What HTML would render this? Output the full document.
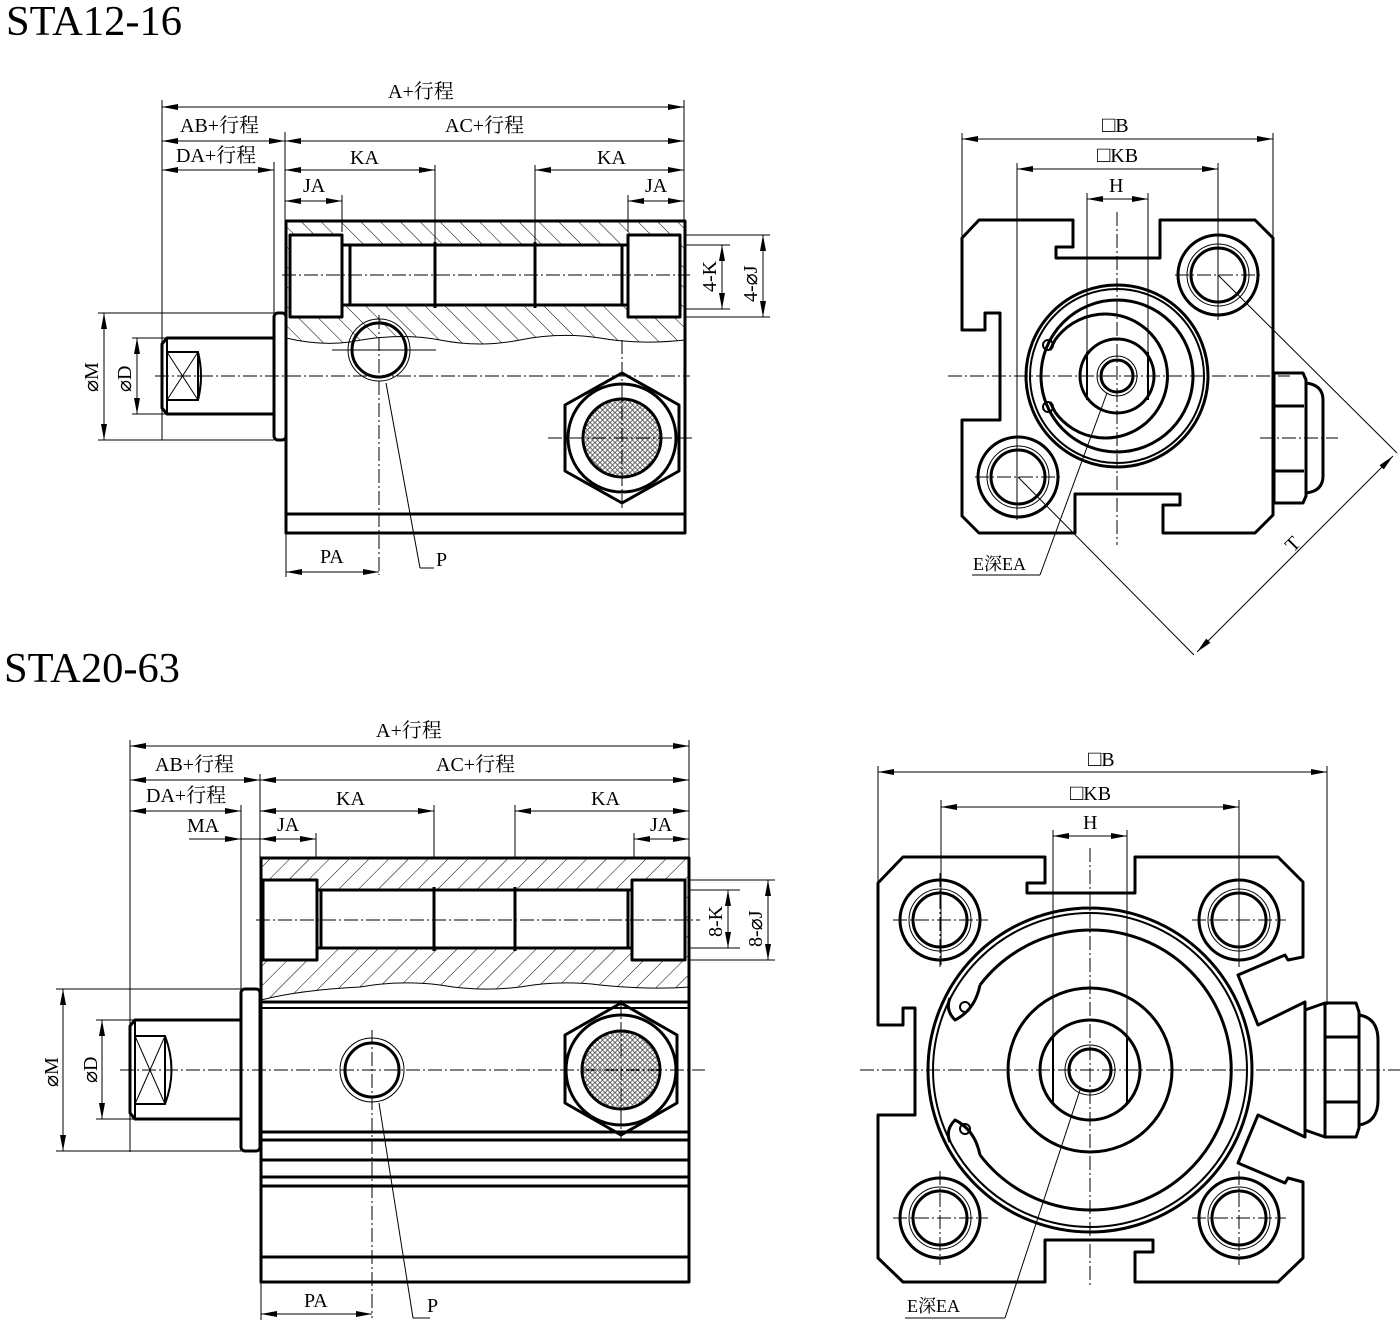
<!DOCTYPE html>
<html><head><meta charset="utf-8"><style>
html,body{margin:0;padding:0;background:#fff;}
svg{display:block}
text{font-family:"Liberation Serif","Noto Serif CJK SC","Noto Sans CJK SC",serif;fill:#000}
.t{stroke:#000;stroke-width:3;fill:none;stroke-linejoin:round}
.m{stroke:#000;stroke-width:2;fill:none}
.n{stroke:#000;stroke-width:1;fill:none}
.c{stroke:#000;stroke-width:1;fill:none;stroke-dasharray:14 3 2 3}
.d{stroke:#000;stroke-width:1;fill:none;marker-start:url(#a);marker-end:url(#a)}
.d1{stroke:#000;stroke-width:1;fill:none;marker-end:url(#a)}
.l{font-size:20px}
</style></head><body>
<svg width="1400" height="1322" viewBox="0 0 1400 1322" xmlns="http://www.w3.org/2000/svg">
<defs>
<marker id="a" viewBox="0 0 16 6" refX="16" refY="3" markerWidth="16" markerHeight="6" orient="auto-start-reverse" markerUnits="userSpaceOnUse"><path d="M0,0 L16,3 L0,6 Z" fill="#000"/></marker>
<pattern id="h1" width="14" height="14" patternUnits="userSpaceOnUse" patternTransform="rotate(-45)"><line x1="0" y1="0" x2="0" y2="14" stroke="#000" stroke-width="1"/></pattern>
<pattern id="h2" width="14" height="14" patternUnits="userSpaceOnUse" patternTransform="rotate(45)"><line x1="0" y1="0" x2="0" y2="14" stroke="#000" stroke-width="1"/></pattern>
<pattern id="g" width="5" height="5" patternUnits="userSpaceOnUse"><circle cx="2.5" cy="2.5" r="1.8" fill="none" stroke="#000" stroke-width="0.7"/></pattern>
</defs>

<!-- Titles -->
<text x="6" y="35" font-size="42" textLength="176" lengthAdjust="spacingAndGlyphs">STA12-16</text>
<text x="4" y="682" font-size="42" textLength="176" lengthAdjust="spacingAndGlyphs">STA20-63</text>

<!-- ============ TOP LEFT ============ -->
<g>
<!-- dims -->
<line class="n" x1="162" y1="100" x2="162" y2="440"/>
<line class="n" x1="684" y1="100" x2="684" y2="220"/>
<line class="n" x1="285" y1="132" x2="285" y2="220"/>
<line class="n" x1="274" y1="162" x2="274" y2="313"/>
<line class="n" x1="435" y1="165" x2="435" y2="245"/>
<line class="n" x1="535" y1="165" x2="535" y2="245"/>
<line class="n" x1="342" y1="195" x2="342" y2="232"/>
<line class="n" x1="628" y1="195" x2="628" y2="232"/>
<line class="d" x1="162" y1="107" x2="684" y2="107"/>
<text class="l" x="388" y="98">A+行程</text>
<line class="d" x1="162" y1="141" x2="285" y2="141"/>
<text class="l" x="180" y="132">AB+行程</text>
<line class="d" x1="285" y1="141" x2="684" y2="141"/>
<text class="l" x="445" y="132">AC+行程</text>
<line class="d" x1="162" y1="170" x2="274" y2="170"/>
<text class="l" x="176" y="162">DA+行程</text>
<line class="d" x1="285" y1="170" x2="435" y2="170"/>
<text class="l" x="350" y="164">KA</text>
<line class="d" x1="535" y1="170" x2="684" y2="170"/>
<text class="l" x="597" y="164">KA</text>
<line class="d" x1="285" y1="201" x2="342" y2="201"/>
<text class="l" x="303" y="192">JA</text>
<line class="d" x1="628" y1="201" x2="684" y2="201"/>
<text class="l" x="645" y="192">JA</text>
<!-- body hatch -->
<path d="M286,221 L685,221 L685,340 Q640,345 600,338 Q560,332 520,340 Q480,348 440,340 Q400,332 350,342 Q320,346 286,338 Z" fill="url(#h1)"/>
<rect x="290" y="235" width="52" height="82" fill="#fff"/>
<rect x="628" y="235" width="52" height="82" fill="#fff"/>
<rect x="342" y="245" width="286" height="60" fill="#fff"/>
<path class="n" d="M286,338 Q320,346 350,342 Q400,332 440,340 Q480,348 520,340 Q560,332 600,338 Q640,345 685,340"/>
<rect class="t" x="286" y="221" width="399" height="312"/>
<line class="t" x1="286" y1="514" x2="685" y2="514"/>
<rect class="t" x="290" y="235" width="52" height="82"/>
<rect class="t" x="628" y="235" width="52" height="82"/>
<path class="t" d="M342,245 L350,245 L622,245 L628,245 M342,305 L628,305 M350,245 L350,305 M622,245 L622,305"/>
<line class="t" x1="435" y1="242" x2="435" y2="308"/>
<line class="t" x1="535" y1="242" x2="535" y2="308"/>
<line class="c" x1="282" y1="275" x2="690" y2="275"/>
<!-- 4-K 4-J -->
<line class="n" x1="685" y1="245" x2="730" y2="245"/>
<line class="n" x1="685" y1="309" x2="730" y2="309"/>
<line class="n" x1="685" y1="235" x2="770" y2="235"/>
<line class="n" x1="685" y1="317" x2="770" y2="317"/>
<line class="d" x1="722" y1="245" x2="722" y2="309"/>
<line class="d" x1="763" y1="235" x2="763" y2="317"/>
<text class="l" transform="translate(716,292) rotate(-90)">4-K</text>
<text class="l" transform="translate(757,302) rotate(-90)">4-⌀J</text>
<!-- rod -->
<rect class="t" x="274" y="313" width="12" height="127" rx="4"/>
<path class="t" d="M274,338 L167,338 L162,344 L162,408 L167,414 L274,414"/>
<path class="m" d="M167,338 L167,414 M167,352 L198,352 Q204,376 198,400 L167,400 M198,352 L198,400"/>
<path class="n" d="M167,352 L198,400 M198,352 L167,400"/>
<line class="c" x1="155" y1="376" x2="690" y2="376"/>
<!-- OM OD -->
<line class="n" x1="98" y1="313" x2="274" y2="313"/>
<line class="n" x1="98" y1="440" x2="274" y2="440"/>
<line class="n" x1="132" y1="338" x2="167" y2="338"/>
<line class="n" x1="132" y1="414" x2="167" y2="414"/>
<line class="d" x1="104" y1="313" x2="104" y2="440"/>
<line class="d" x1="137" y1="338" x2="137" y2="414"/>
<text class="l" transform="translate(98,392) rotate(-90)">⌀M</text>
<text class="l" transform="translate(131,392) rotate(-90)">⌀D</text>
<!-- port -->
<circle class="t" cx="379" cy="350" r="27" fill="#fff"/>
<circle class="n" cx="379" cy="350" r="31"/>
<line class="n" x1="332" y1="350" x2="436" y2="350"/>
<line class="c" x1="379" y1="315" x2="379" y2="575"/>
<line class="n" x1="386" y1="383" x2="420" y2="568"/>
<line class="n" x1="420" y1="568" x2="434" y2="568"/>
<text class="l" x="436" y="566">P</text>
<line class="n" x1="286" y1="533" x2="286" y2="577"/>
<line class="d" x1="286" y1="572" x2="379" y2="572"/>
<text class="l" x="320" y="563">PA</text>
<!-- hex filter -->
<polygon class="t" points="622,373 679,405 679,471 622,503 565,471 565,405" fill="#fff"/>
<circle class="t" cx="622" cy="438" r="54"/>
<circle cx="622" cy="438" r="39" fill="url(#g)" stroke="#000" stroke-width="3"/>
<line class="c" x1="548" y1="438" x2="692" y2="438"/>
<line class="c" x1="622" y1="340" x2="622" y2="510"/>
</g>

<!-- ============ TOP RIGHT ============ -->
<g>
<line class="n" x1="962" y1="133" x2="962" y2="238"/>
<line class="n" x1="1273" y1="133" x2="1273" y2="238"/>
<line class="n" x1="1017" y1="163" x2="1017" y2="520"/>
<line class="n" x1="1218" y1="163" x2="1218" y2="320"/>
<line class="n" x1="1087" y1="193" x2="1087" y2="400"/>
<line class="n" x1="1148" y1="193" x2="1148" y2="400"/>
<line class="d" x1="962" y1="139" x2="1273" y2="139"/>
<line class="d" x1="1017" y1="169" x2="1218" y2="169"/>
<line class="d" x1="1087" y1="199" x2="1148" y2="199"/>
<text class="l" x="1102" y="132"><tspan font-size="22">□</tspan>B</text>
<text class="l" x="1097" y="162"><tspan font-size="22">□</tspan>KB</text>
<text class="l" x="1109" y="192">H</text>
<path class="t" d="M962,238 L979,220 L1073,220 L1073,247 L1056,247 L1056,258 L1160,258 L1160,220 L1255,220 L1273,238 L1273,515 L1255,533 L1163,533 L1163,505 L1180,505 L1180,494 L1075,494 L1075,533 L979,533 L962,516 L962,420 L1000,420 L1000,313 L985,313 L985,330 L962,330 Z"/>
<circle class="t" cx="1117" cy="376" r="91"/>
<circle class="m" cx="1117" cy="376" r="87"/>
<circle class="t" cx="1117" cy="376" r="76"/>
<path class="t" d="M1055,340 A62,62 0 1 1 1055,412 M1055,340 L1050,350 M1055,412 L1050,402"/>
<circle class="m" cx="1048" cy="345" r="5"/>
<circle class="m" cx="1048" cy="407" r="5"/>
<circle class="t" cx="1117" cy="376" r="37"/>
<path class="m" d="M1087,352 L1087,400 M1148,352 L1148,400"/>
<circle class="t" cx="1117" cy="376" r="16"/>
<circle class="n" cx="1117" cy="376" r="20"/>
<line class="c" x1="948" y1="376" x2="1290" y2="376"/>
<line class="c" x1="1117" y1="212" x2="1117" y2="545"/>
<!-- holes -->
<circle class="t" cx="1218" cy="275" r="40"/>
<circle class="t" cx="1218" cy="275" r="27"/>
<circle class="n" cx="1218" cy="275" r="31"/>
<circle class="t" cx="1018" cy="477" r="40"/>
<circle class="t" cx="1018" cy="477" r="27"/>
<circle class="n" cx="1018" cy="477" r="31"/>
<line class="c" x1="1175" y1="275" x2="1262" y2="275"/>
<line class="c" x1="975" y1="477" x2="1060" y2="477"/>
<!-- nut -->
<path class="t" d="M1274,373 L1303,373 L1306,380 L1306,496 L1303,503 L1274,503 Z"/>
<line class="t" x1="1274" y1="406" x2="1304" y2="406"/>
<line class="t" x1="1274" y1="471" x2="1304" y2="471"/>
<path class="t" d="M1306,383 Q1323,385 1323,400 L1323,476 Q1323,491 1306,493"/>
<line class="c" x1="1260" y1="438" x2="1338" y2="438"/>
<!-- T -->
<line class="n" x1="1218" y1="275" x2="1397" y2="453"/>
<line class="n" x1="1018" y1="477" x2="1194" y2="655"/>
<line class="d" x1="1393" y1="456" x2="1197" y2="652"/>
<text class="l" transform="translate(1293,553) rotate(-45)">T</text>
<!-- E label -->
<line class="n" x1="1107" y1="393" x2="1040" y2="575"/>
<line class="n" x1="972" y1="575" x2="1040" y2="575"/>
<text x="973" y="570" font-size="18">E深EA</text>
</g>

<!-- ============ BOTTOM LEFT ============ -->
<g>
<line class="n" x1="130" y1="740" x2="130" y2="1152"/>
<line class="n" x1="689" y1="740" x2="689" y2="858"/>
<line class="n" x1="260" y1="774" x2="260" y2="858"/>
<line class="n" x1="241" y1="805" x2="241" y2="990"/>
<line class="n" x1="434" y1="805" x2="434" y2="858"/>
<line class="n" x1="515" y1="805" x2="515" y2="858"/>
<line class="n" x1="316" y1="833" x2="316" y2="858"/>
<line class="n" x1="634" y1="833" x2="634" y2="858"/>
<line class="d" x1="130" y1="746" x2="689" y2="746"/>
<text class="l" x="376" y="737">A+行程</text>
<line class="d" x1="130" y1="780" x2="260" y2="780"/>
<text class="l" x="155" y="771">AB+行程</text>
<line class="d" x1="260" y1="780" x2="689" y2="780"/>
<text class="l" x="436" y="771">AC+行程</text>
<line class="d" x1="130" y1="811" x2="241" y2="811"/>
<text class="l" x="146" y="802">DA+行程</text>
<line class="d" x1="260" y1="811" x2="434" y2="811"/>
<text class="l" x="336" y="805">KA</text>
<line class="d" x1="515" y1="811" x2="689" y2="811"/>
<text class="l" x="591" y="805">KA</text>
<line class="d1" x1="189" y1="839" x2="241" y2="839"/>
<line class="n" x1="241" y1="839" x2="260" y2="839"/>
<text class="l" x="187" y="832">MA</text>
<line class="d" x1="260" y1="839" x2="316" y2="839"/>
<text class="l" x="277" y="831">JA</text>
<line class="d" x1="634" y1="839" x2="689" y2="839"/>
<text class="l" x="650" y="831">JA</text>
<!-- hatch -->
<path d="M261,858 L689,858 L689,987 Q650,990 600,985 Q560,980 520,987 Q480,992 440,985 Q400,980 360,987 Q300,990 261,1000 Z" fill="url(#h2)"/>
<rect x="263" y="880" width="54" height="80" fill="#fff"/>
<rect x="632" y="880" width="53" height="80" fill="#fff"/>
<rect x="317" y="890" width="315" height="58" fill="#fff"/>
<path class="n" d="M261,1000 Q300,990 360,987 Q400,980 440,985 Q480,992 520,987 Q560,980 600,985 Q650,990 689,987"/>
<rect class="t" x="261" y="858" width="428" height="424"/>
<rect class="t" x="263" y="880" width="54" height="80"/>
<rect class="t" x="632" y="880" width="53" height="80"/>
<path class="t" d="M317,890 L632,890 M317,948 L632,948 M321,890 L321,948 M628,890 L628,948"/>
<line class="t" x1="434" y1="887" x2="434" y2="951"/>
<line class="t" x1="515" y1="887" x2="515" y2="951"/>
<line class="c" x1="256" y1="920" x2="700" y2="920"/>
<line class="t" x1="261" y1="1002" x2="689" y2="1002"/>
<line class="m" x1="261" y1="1008" x2="689" y2="1008"/>
<line class="t" x1="261" y1="1132" x2="689" y2="1132"/>
<line class="t" x1="261" y1="1140" x2="689" y2="1140"/>
<line class="t" x1="261" y1="1160" x2="689" y2="1160"/>
<line class="t" x1="261" y1="1177" x2="689" y2="1177"/>
<line class="t" x1="261" y1="1186" x2="689" y2="1186"/>
<line class="t" x1="261" y1="1257" x2="689" y2="1257"/>
<!-- 8-K 8-J -->
<line class="n" x1="689" y1="890" x2="740" y2="890"/>
<line class="n" x1="689" y1="948" x2="740" y2="948"/>
<line class="n" x1="689" y1="880" x2="775" y2="880"/>
<line class="n" x1="689" y1="960" x2="775" y2="960"/>
<line class="d" x1="728" y1="890" x2="728" y2="948"/>
<line class="d" x1="768" y1="880" x2="768" y2="960"/>
<text class="l" transform="translate(722,937) rotate(-90)">8-K</text>
<text class="l" transform="translate(762,947) rotate(-90)">8-⌀J</text>
<!-- rod -->
<rect class="t" x="241" y="989" width="19" height="162" rx="4"/>
<path class="t" d="M241,1020 L135,1020 L130,1026 L130,1113 L135,1119 L241,1119"/>
<path class="m" d="M135,1020 L135,1119 M135,1036 L165,1036 Q178,1070 165,1104 L135,1104 M165,1036 L165,1104"/>
<path class="n" d="M135,1036 L165,1104 M165,1036 L135,1104"/>
<line class="c" x1="120" y1="1070" x2="705" y2="1070"/>
<line class="n" x1="56" y1="989" x2="241" y2="989"/>
<line class="n" x1="56" y1="1151" x2="241" y2="1151"/>
<line class="n" x1="96" y1="1020" x2="135" y2="1020"/>
<line class="n" x1="96" y1="1119" x2="135" y2="1119"/>
<line class="d" x1="63" y1="989" x2="63" y2="1151"/>
<line class="d" x1="102" y1="1020" x2="102" y2="1119"/>
<text class="l" transform="translate(58,1087) rotate(-90)">⌀M</text>
<text class="l" transform="translate(97,1083) rotate(-90)">⌀D</text>
<!-- port -->
<circle class="t" cx="372" cy="1070" r="27"/>
<circle class="n" cx="372" cy="1070" r="32"/>
<line class="c" x1="372" y1="1030" x2="372" y2="1318"/>
<line class="n" x1="379" y1="1103" x2="413" y2="1318"/>
<line class="n" x1="413" y1="1318" x2="430" y2="1318"/>
<text class="l" x="427" y="1312">P</text>
<line class="n" x1="261" y1="1282" x2="261" y2="1320"/>
<line class="d" x1="261" y1="1314" x2="372" y2="1314"/>
<text class="l" x="304" y="1307">PA</text>
<!-- hex -->
<polygon class="t" points="621,1003 677,1035 677,1103 621,1135 565,1103 565,1035" fill="#fff"/>
<circle class="t" cx="621" cy="1070" r="55"/>
<circle cx="621" cy="1070" r="39" fill="url(#g)" stroke="#000" stroke-width="3"/>
<line class="c" x1="621" y1="1000" x2="621" y2="1140"/>
</g>

<!-- ============ BOTTOM RIGHT ============ -->
<g>
<line class="n" x1="878" y1="766" x2="878" y2="882"/>
<line class="n" x1="1327" y1="766" x2="1327" y2="1005"/>
<line class="n" x1="941" y1="800" x2="941" y2="965"/>
<line class="n" x1="1239" y1="800" x2="1239" y2="965"/>
<line class="n" x1="1053" y1="830" x2="1053" y2="1100"/>
<line class="n" x1="1127" y1="830" x2="1127" y2="1100"/>
<line class="d" x1="878" y1="772" x2="1327" y2="772"/>
<line class="d" x1="941" y1="807" x2="1239" y2="807"/>
<line class="d" x1="1053" y1="836" x2="1127" y2="836"/>
<text class="l" x="1088" y="766"><tspan font-size="22">□</tspan>B</text>
<text class="l" x="1070" y="800"><tspan font-size="22">□</tspan>KB</text>
<text class="l" x="1083" y="829">H</text>
<path class="t" d="M878,883 L903,857 L1045,857 L1045,883 L1027,883 L1027,893 L1135,893 L1135,857 L1278,857 L1303,882 L1303,957 L1288,960 L1285,955 L1238,975 L1258,1025 L1305,1002 L1305,1137 L1258,1115 L1238,1163 L1285,1183 L1288,1178 L1303,1182 L1303,1258 L1278,1282 L1135,1282 L1135,1252 L1153,1252 L1153,1240 L1045,1240 L1045,1282 L903,1282 L878,1258 L878,1115 L915,1115 L915,1008 L903,1008 L903,1025 L878,1025 Z"/>
<circle class="t" cx="1090" cy="1070" r="162"/>
<circle class="m" cx="1090" cy="1070" r="157"/>
<path class="t" d="M980,985 A140,140 0 1 1 980,1155 M980,985 Q975,1010 955,1020 Q945,1010 950,998 M980,1155 Q975,1130 955,1120 Q945,1130 950,1142"/>
<circle class="m" cx="965" cy="1007" r="5"/>
<circle class="m" cx="965" cy="1129" r="5"/>
<circle class="t" cx="1090" cy="1070" r="82"/>
<circle class="t" cx="1090" cy="1070" r="50"/>
<path class="m" d="M1053,1035 L1053,1105 M1127,1035 L1127,1105"/>
<circle class="t" cx="1090" cy="1070" r="21"/>
<circle class="n" cx="1090" cy="1070" r="25"/>
<line class="c" x1="860" y1="1070" x2="1400" y2="1070"/>
<line class="c" x1="1090" y1="848" x2="1090" y2="1288"/>
<!-- holes -->
<g>
<circle class="t" cx="940" cy="920" r="40"/><circle class="t" cx="940" cy="920" r="27"/><circle class="n" cx="940" cy="920" r="31"/>
<circle class="t" cx="1239" cy="920" r="40"/><circle class="t" cx="1239" cy="920" r="27"/><circle class="n" cx="1239" cy="920" r="31"/>
<circle class="t" cx="940" cy="1218" r="40"/><circle class="t" cx="940" cy="1218" r="27"/><circle class="n" cx="940" cy="1218" r="31"/>
<circle class="t" cx="1239" cy="1218" r="40"/><circle class="t" cx="1239" cy="1218" r="27"/><circle class="n" cx="1239" cy="1218" r="31"/>
<line class="c" x1="893" y1="920" x2="988" y2="920"/><line class="c" x1="940" y1="873" x2="940" y2="967"/>
<line class="c" x1="1192" y1="920" x2="1286" y2="920"/><line class="c" x1="1239" y1="873" x2="1239" y2="967"/>
<line class="c" x1="893" y1="1218" x2="988" y2="1218"/><line class="c" x1="940" y1="1171" x2="940" y2="1265"/>
<line class="c" x1="1192" y1="1218" x2="1286" y2="1218"/><line class="c" x1="1239" y1="1171" x2="1239" y2="1265"/>
</g>
<!-- nut -->
<path class="t" d="M1325,1003 L1356,1003 L1359,1012 L1359,1128 L1356,1137 L1325,1137 Z"/>
<line class="t" x1="1325" y1="1037" x2="1358" y2="1037"/>
<line class="t" x1="1325" y1="1102" x2="1358" y2="1102"/>
<path class="t" d="M1359,1015 Q1378,1018 1378,1040 L1378,1100 Q1378,1122 1359,1125"/>
<line class="t" x1="1305" y1="1010" x2="1325" y2="1003"/>
<line class="t" x1="1305" y1="1130" x2="1325" y2="1137"/>
<!-- E label -->
<line class="n" x1="1080" y1="1090" x2="1005" y2="1318"/>
<line class="n" x1="905" y1="1318" x2="1005" y2="1318"/>
<text x="907" y="1312" font-size="18">E深EA</text>
</g>
</svg>
</body></html>
